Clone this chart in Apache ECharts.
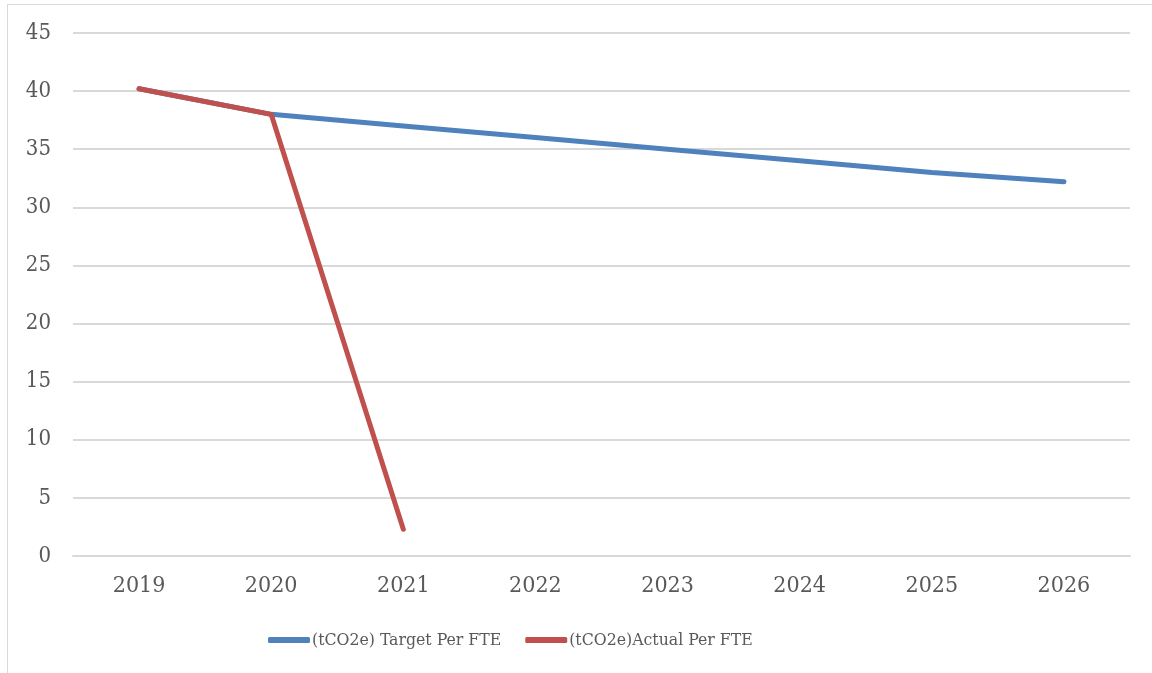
<!DOCTYPE html>
<html>
<head>
<meta charset="utf-8">
<script src="https://cdn.jsdelivr.net/npm/echarts@6/dist/echarts.min.js"></script>
<style>
  html, body { margin: 0; padding: 0; background: #fff; overflow: hidden; }
  #frame { position: absolute; left: 7px; top: 4px; width: 1300px; height: 800px; border: 1px solid #d9d9d9; }
  #chart { position: absolute; left: 0; top: 0; width: 1152px; height: 673px; }
</style>
</head>
<body>
<div id="frame"></div>
<div id="chart"></div>
<script>
const years = ["2019", "2020", "2021", "2022", "2023", "2024", "2025", "2026"];
const targetPerFte = [40.2, 38.0, 37.0, 36.0, 35.0, 34.0, 33.0, 32.2];
const actualPerFte = [40.2, 38.0, 2.3, null, null, null, null, null];

const labelFont = "'DejaVu Serif Condensed', 'DejaVu Serif', serif";
let myChart = echarts.init(document.getElementById("chart"));
const options = {
  animation: false,
  grid: { left: 73, right: 22, top: 33, bottom: 117 },
  legend: {
    left: 263,
    top: 626,
    itemWidth: 42,
    itemHeight: 6,
    itemGap: 24,
    icon: "roundRect",
    textStyle: { fontFamily: labelFont, fontSize: 17.5, color: "#595959", padding: [0, 0, 0, -3] },
    data: ["(tCO2e) Target Per FTE", "(tCO2e)Actual Per FTE"],
  },
  xAxis: {
    type: "category",
    data: years,
    boundaryGap: true,
    axisLine: { lineStyle: { color: "#d9d9d9", width: 2 } },
    axisTick: { show: false },
    axisLabel: { fontFamily: labelFont, fontSize: 23, color: "#595959", margin: 19 },
  },
  yAxis: {
    type: "value",
    min: 0,
    max: 45,
    interval: 5,
    axisLine: { show: false },
    axisTick: { show: false },
    splitLine: { lineStyle: { color: "#d9d9d9", width: 2 } },
    axisLabel: { fontFamily: labelFont, fontSize: 22, color: "#595959", margin: 22 },
  },
  series: [
    {
      name: "(tCO2e) Target Per FTE",
      type: "line",
      data: targetPerFte,
      showSymbol: false,
      itemStyle: { color: "#4f81bd" },
      lineStyle: { color: "#4f81bd", width: 5, cap: "round" },
    },
    {
      name: "(tCO2e)Actual Per FTE",
      type: "line",
      data: actualPerFte,
      showSymbol: false,
      itemStyle: { color: "#c0504d" },
      lineStyle: { color: "#c0504d", width: 5, cap: "round" },
    },
  ],
};
myChart.setOption(options);
</script>
</body>
</html>
